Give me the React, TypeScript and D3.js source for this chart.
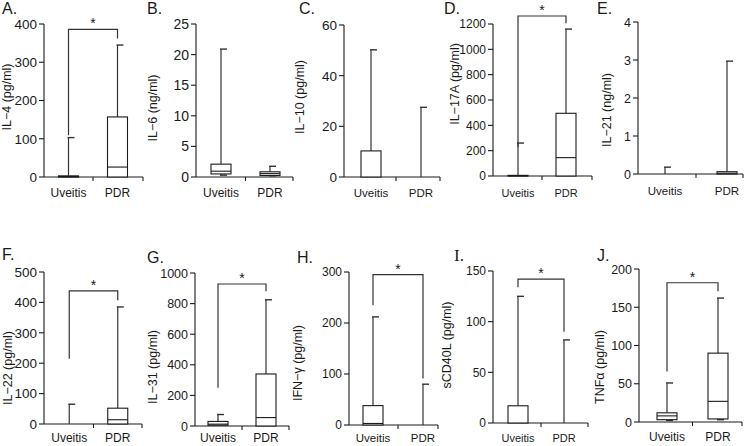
import React from "react";
import * as d3 from "d3";

const panelLetters = ["A.", "B.", "C.", "D.", "E.", "F.", "G.", "H.", "I.", "J."];
const yTitles = [
  "IL−4 (pg/ml)",
  "IL−6 (ng/ml)",
  "IL−10 (pg/ml)",
  "IL−17A (pg/ml)",
  "IL−21 (ng/ml)",
  "IL−22 (pg/ml)",
  "IL−31 (pg/ml)",
  "IFN−γ (pg/ml)",
  "sCD40L (pg/ml)",
  "TNFα (pg/ml)",
];
const groups = ["Uveitis", "PDR"];
const yMaxes = [400, 25, 60, 1200, 4, 500, 1000, 300, 150, 200];
const yTickSteps = [100, 5, 20, 200, 1, 100, 200, 100, 50, 50];

// [low whisker, q1, median, q3, high whisker]
const uveitisStats = [
  [0, 0, 1, 3, 103],
  [0.3, 0.5, 0.95, 2.1, 20.9],
  [0, 0, 0, 10.3, 50.2],
  [0, 0, 2, 5, 260],
  [0, 0, 0, 0, 0.18],
  [0, 0, 0, 0, 65],
  [0, 5, 12, 30, 75],
  [0, 0, 3, 38, 212],
  [0, 0, 0, 17, 125],
  [2, 3, 8, 12, 51],
];
const pdrStats = [
  [0, 0, 26, 157, 345],
  [0.2, 0.25, 0.55, 0.85, 1.75],
  [0, 0, 0, 0, 27.5],
  [0, 0, 145, 495, 1160],
  [0, 0, 0.02, 0.06, 2.97],
  [0, 0, 14, 52, 385],
  [0, 0, 55, 340, 825],
  [0, 0, 0, 0, 80],
  [0, 0, 0, 0, 82],
  [3, 4, 27, 90, 162],
];
const significant = [true, false, false, true, false, true, true, true, true, true];
const bracketTop = [386, 0, 0, 1263, 0, 438, 928, 295, 142, 182];
const bracketLeftEnd = [109, 0, 0, 229, 0, 215, 250, 235, 134, 66];
const bracketRightEnd = [362, 0, 0, 1205, 0, 407, 880, 91, 90, 171];

// layout (pixel frame of each panel)
const layouts = [
  { ax: 44, end: 143, b0: 44, b1: 142, top: 24, bot: 177, tx: 2, ty: 14, lx: 7, ly: 97, tf: 13.5, cf: 12, cy: 197 },
  { ax: 196, end: 293, b0: 196.5, b1: 294.5, top: 24, bot: 177, tx: 147, ty: 14, lx: 153, ly: 108, tf: 14, cf: 12, cy: 197 },
  { ax: 344, end: 440, b0: 346, b1: 446, top: 25, bot: 177, tx: 299, ty: 14, lx: 300, ly: 97, tf: 13.5, cf: 11.5, cy: 197 },
  { ax: 493, end: 592, b0: 494, b1: 590, top: 24, bot: 176, tx: 444, ty: 14, lx: 455, ly: 84, tf: 12, cf: 11, cy: 197 },
  { ax: 638, end: 743, b0: 634, b1: 758, top: 22, bot: 174, tx: 597, ty: 14, lx: 607, ly: 110, tf: 12.5, cf: 11.5, cy: 195 },
  { ax: 44, end: 142, b0: 45, b1: 142, top: 272, bot: 424, tx: 2, ty: 260, lx: 8, ly: 368, tf: 13.5, cf: 12, cy: 442 },
  { ax: 195, end: 289, b0: 194, b1: 290, top: 273, bot: 426, tx: 147, ty: 263, lx: 153, ly: 367, tf: 12.5, cf: 12, cy: 442 },
  { ax: 349, end: 438, b0: 348, b1: 448, top: 272, bot: 425, tx: 297, ty: 263, lx: 298, ly: 363, tf: 12, cf: 11.5, cy: 442 },
  { ax: 493, end: 588, b0: 495, b1: 587, top: 271, bot: 423, tx: 454, ty: 261, lx: 447, ly: 345, tf: 12, cf: 11, cy: 442 },
  { ax: 639, end: 742, b0: 641.5, b1: 743.5, top: 269, bot: 422, tx: 597, ty: 261, lx: 600, ly: 367, tf: 12.5, cf: 12, cy: 441 },
];

const FONT = "'Liberation Sans', Arial, sans-serif";
const INK = "#1a1a1a";
const LINE = "#333";
const BOX_W = 20;
const CAP_W = 7;

function BoxMark({ s, cx, y }: { s: number[]; cx: number; y: d3.ScaleLinear<number, number> }) {
  const [lo, q1, med, q3, hi] = s;
  const hasBox = q3 > q1;
  const els: React.ReactNode[] = [];
  if (hi > q3) {
    els.push(<line key="uw" x1={cx} x2={cx} y1={y(q3)} y2={y(hi)} stroke={LINE} strokeWidth={1.2} />);
    els.push(<line key="uc" x1={cx - 1} x2={cx + CAP_W - 1} y1={y(hi)} y2={y(hi)} stroke={LINE} strokeWidth={1.4} />);
  }
  if (q1 > lo) {
    els.push(<line key="lw" x1={cx} x2={cx} y1={y(q1)} y2={y(lo)} stroke={LINE} strokeWidth={1.2} />);
    if (lo > 0)
      els.push(<line key="lc" x1={cx - 1} x2={cx + CAP_W - 1} y1={y(lo)} y2={y(lo)} stroke={LINE} strokeWidth={1.4} />);
  }
  if (hasBox) {
    els.push(
      <rect key="b" x={cx - BOX_W / 2} y={y(q3)} width={BOX_W} height={y(q1) - y(q3)} fill="white" stroke={INK} strokeWidth={1.1} />
    );
    if (med > q1 && med < q3)
      els.push(<line key="m" x1={cx - BOX_W / 2} x2={cx + BOX_W / 2} y1={y(med)} y2={y(med)} stroke={INK} strokeWidth={1.1} />);
  }
  return <g>{els}</g>;
}

function Panel({ i }: { i: number }) {
  const L = layouts[i];
  const y = d3.scaleLinear().domain([0, yMaxes[i]]).range([L.bot, L.top]);
  const x = d3.scaleBand<string>().domain(groups).range([L.b0, L.b1]);
  const ticks = d3.range(0, yMaxes[i] + yTickSteps[i] / 2, yTickSteps[i]);
  const mid = x("PDR") as number;
  const cU = (x("Uveitis") as number) + x.bandwidth() / 2;
  const cP = (x("PDR") as number) + x.bandwidth() / 2;
  const y0 = y(0);
  return (
    <g>
      <text
        x={L.tx}
        y={L.ty}
        fontSize={i === 8 ? 17 : 16}
        fontFamily={i === 8 ? "'Liberation Serif', 'Times New Roman', serif" : FONT}
        fill={INK}
      >
        {panelLetters[i]}
      </text>
      <line x1={L.ax} x2={L.ax} y1={y(yMaxes[i])} y2={y0} stroke={INK} strokeWidth={1.1} />
      {ticks.map((t) => (
        <g key={t}>
          <line x1={L.ax - 5} x2={L.ax} y1={y(t)} y2={y(t)} stroke={INK} strokeWidth={1.1} />
          <text x={L.ax - 7} y={y(t)} dy="0.36em" textAnchor="end" fontSize={L.tf} fontFamily={FONT} fill={INK}>
            {t}
          </text>
        </g>
      ))}
      <line x1={L.ax} x2={L.end} y1={y0} y2={y0} stroke={INK} strokeWidth={1.1} />
      <line x1={mid} x2={mid} y1={y0} y2={y0 + 4} stroke={INK} strokeWidth={1.1} />
      <line x1={L.end} x2={L.end} y1={y0} y2={y0 + 4} stroke={INK} strokeWidth={1.1} />
      {groups.map((g) => (
        <text
          key={g}
          x={(x(g) as number) + x.bandwidth() / 2}
          y={L.cy}
          textAnchor="middle"
          fontSize={L.cf}
          fontFamily={FONT}
          fill={INK}
        >
          {g}
        </text>
      ))}
      <text
        transform={`translate(${L.lx},${L.ly}) rotate(-90)`}
        textAnchor="middle"
        dominantBaseline="central"
        fontSize={12.5}
        fontFamily={FONT}
        fill={INK}
      >
        {yTitles[i]}
      </text>
      <BoxMark s={uveitisStats[i]} cx={cU} y={y} />
      <BoxMark s={pdrStats[i]} cx={cP} y={y} />
      {significant[i] && (
        <g>
          <path
            d={`M${cU},${y(bracketLeftEnd[i])}V${y(bracketTop[i])}H${cP}V${y(bracketRightEnd[i])}`}
            fill="none"
            stroke={LINE}
            strokeWidth={1.2}
          />
          <text x={(cU + cP) / 2} y={y(bracketTop[i]) - 1} textAnchor="middle" fontSize={14} fontFamily={FONT} fill={INK}>
            *
          </text>
        </g>
      )}
    </g>
  );
}

export default function App() {
  return (
    <svg width={745} height={446} style={{ position: "absolute", left: 0, top: 0, background: "white" }}>
      <rect width={745} height={446} fill="white" />
      {panelLetters.map((_, i) => (
        <Panel key={i} i={i} />
      ))}
    </svg>
  );
}
